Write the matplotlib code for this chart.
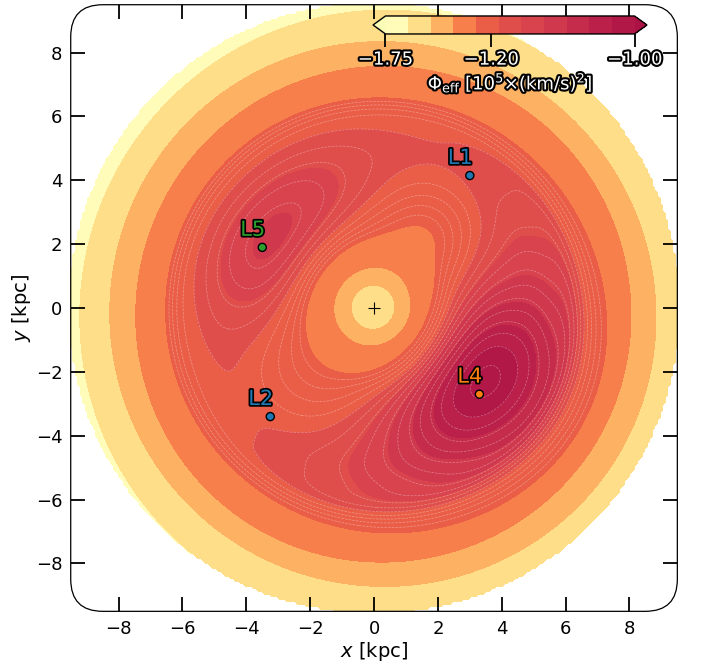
import numpy as np
import matplotlib
matplotlib.use("Agg")
import matplotlib.pyplot as plt
import matplotlib.patheffects as pe
from matplotlib.colors import ListedColormap
from matplotlib.patches import FancyBboxPatch

# Lagrange points in the rotating bar frame (kpc)
LP_NAMES = ["L1", "L2", "L4", "L5"]
LP_X = [3.0, -3.25, 3.3, -3.5]
LP_Y = [4.15, -3.4, -2.7, 1.9]
LP_COLORS = ["#1f77b4", "#1f77b4", "#ff7f0e", "#2ca02c"]

# filled levels and colorbar ticks, in 1e5 (km/s)^2
LEVELS = [-1.75, -1.62, -1.48, -1.35, -1.25, -1.175, -1.14, -1.11, -1.08, -1.05, -1.025, -1.00]
CBAR_TICKS = [-1.75, -1.20, -1.00]

# azimuthal mean of Phi_eff
R_NODES = [0.0, 0.72, 1.2, 1.9, 2.4, 3.0, 3.6, 4.3, 5.0, 5.6, 6.2, 6.73, 7.78, 8.48, 9.55, 10.3]
PHI0_NODES = [-1.56, -1.48, -1.36, -1.268, -1.217, -1.175, -1.15, -1.138, -1.14, -1.152, -1.178,
              -1.245, -1.35, -1.475, -1.615, -1.73]

# bar (m=2) term, lopsided gradient and local bumps
BAR_AMP, BAR_SCALE, BAR_ANGLE = 0.055, 3.6, 50.0
LOP_GRAD, LOP_ANGLE = 0.0062, -35.0
BUMP_X = [1.6, 3.7, -3.5]
BUMP_Y = [2.3, -2.0, 1.4]
BUMP_AMP = [-0.03, 0.06, 0.012]
BUMP_SIG = [0.9, 2.0, 1.3]
R_MAX = 9.6


def natural_spline(xn, yn, x):
    xn, yn = np.asarray(xn, float), np.asarray(yn, float)
    n, h = len(xn), np.diff(xn)
    A, b = np.zeros((n, n)), np.zeros(n)
    A[0, 0] = A[-1, -1] = 1
    for i in range(1, n - 1):
        A[i, i - 1:i + 2] = [h[i - 1], 2 * (h[i - 1] + h[i]), h[i]]
        b[i] = 3 * ((yn[i + 1] - yn[i]) / h[i] - (yn[i] - yn[i - 1]) / h[i - 1])
    c = np.linalg.solve(A, b)
    i = np.clip(np.searchsorted(xn, x) - 1, 0, n - 2)
    dx = x - xn[i]
    bc = (yn[i + 1] - yn[i]) / h[i] - h[i] * (2 * c[i] + c[i + 1]) / 3
    d = (c[i + 1] - c[i]) / (3 * h[i])
    return yn[i] + bc * dx + c[i] * dx ** 2 + d * dx ** 3


g = np.linspace(-10, 10, 251)
X, Y = np.meshgrid(g, g)
R = np.hypot(X, Y)
PHI = np.arctan2(Y, X)

rn = np.array(R_NODES)
pn = np.array(PHI0_NODES)
phi_eff = natural_spline(np.r_[-rn[:0:-1], rn], np.r_[pn[:0:-1], pn], R)
s = (R / BAR_SCALE) ** 2
phi_eff += BAR_AMP * s ** 2 * np.exp(2 * (1 - s)) * np.cos(2 * (PHI - np.radians(BAR_ANGLE) - np.pi / 2))
la = np.radians(LOP_ANGLE)
phi_eff += LOP_GRAD * (X * np.cos(la) + Y * np.sin(la))
for bx, by, ba, bs in zip(BUMP_X, BUMP_Y, BUMP_AMP, BUMP_SIG):
    phi_eff += ba * np.exp(-((X - bx) ** 2 + (Y - by) ** 2) / (2 * bs ** 2))
phi_eff[R > R_MAX] = np.nan

cmap = ListedColormap(plt.cm.Spectral(np.linspace(0.53, 0.03, 256)))

fig = plt.figure(figsize=(7.03, 6.66), dpi=100)
ax = fig.add_axes([0.1006, 0.0815, 0.8629, 0.912])
cf = ax.contourf(X, Y, phi_eff, levels=LEVELS, cmap=cmap, extend="both")
ax.contour(X, Y, phi_eff, levels=np.arange(-1.235, -1.0, 0.015), colors="white",
           linewidths=0.5, alpha=0.35)

ax.scatter(LP_X, LP_Y, c=LP_COLORS, s=34, edgecolors="black", linewidths=1, zorder=5)
for name, x, y, c in zip(LP_NAMES, LP_X, LP_Y, LP_COLORS):
    ax.text(x - 0.3, y + 0.55, name, color=c, fontsize=15, ha="center", va="center", zorder=6,
            path_effects=[pe.withStroke(linewidth=2.5, foreground="black")])
ax.plot(0, 0, "+", color="black", ms=8, mew=0.8, zorder=5)

ax.set_xlim(-9.5, 9.5)
ax.set_ylim(-9.5, 9.5)
ax.set_aspect("equal")
ax.set_xticks(range(-8, 9, 2))
ax.set_yticks(range(-8, 9, 2))
ax.set_xticklabels([f"{v}".replace("-", "\u2212") for v in range(-8, 9, 2)])
ax.set_yticklabels([f"{v}".replace("-", "\u2212") for v in range(-8, 9, 2)])
ax.tick_params(direction="in", length=10, width=1.3, top=True, right=True, labelsize=13, pad=6)
ax.set_xlabel("$x$ [kpc]", fontsize=14, labelpad=2)
ax.set_ylabel("$y$ [kpc]", fontsize=14, labelpad=2)
for sp in ax.spines.values():
    sp.set_visible(False)
frame = FancyBboxPatch((0, 0), 1, 1, boxstyle="round,pad=0,rounding_size=0.053",
                       transform=ax.transAxes, fc="none", ec="black", lw=0.9,
                       zorder=10, clip_on=False)
ax.add_patch(frame)

# colorbar inset, outlined white text
cax = fig.add_axes([0.5306, 0.949, 0.3897, 0.027])
cb = fig.colorbar(cf, cax=cax, orientation="horizontal", ticks=CBAR_TICKS, extendfrac=0.05)
cb.ax.set_xticklabels([f"{t:.2f}".replace("-", "\u2212") for t in CBAR_TICKS])
cb.ax.tick_params(length=9, width=1.3, labelsize=13, pad=3, labelcolor="white")
stroke = [pe.withStroke(linewidth=3, foreground="black")]
for lab in cb.ax.get_xticklabels():
    lab.set_path_effects(stroke)
cb.set_label(r"$\Phi_{\rm eff}$ [$10^5$$\times$(km/s)$^2$]", fontsize=13, labelpad=2,
             color="white", path_effects=stroke)
cb.outline.set_linewidth(1.0)

fig.savefig("out.png", dpi=100)
